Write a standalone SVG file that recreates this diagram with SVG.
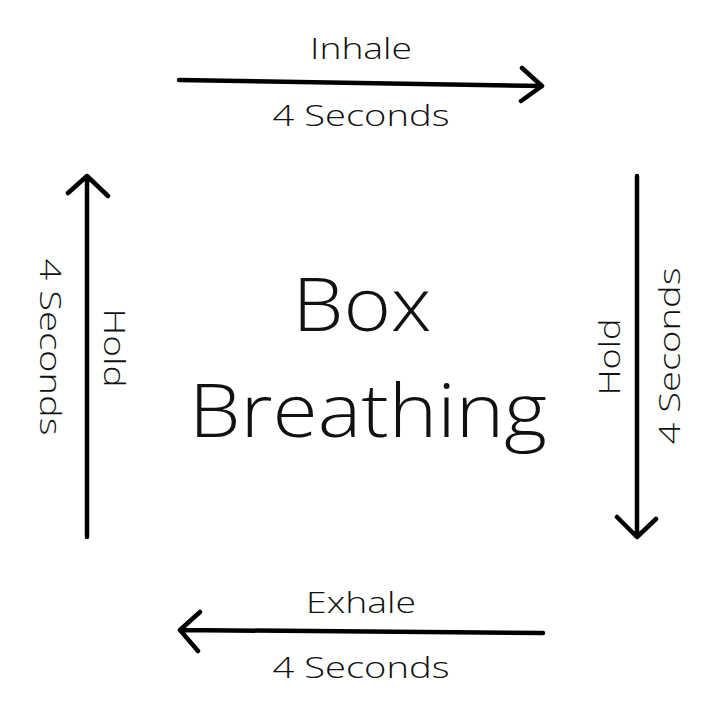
<svg xmlns="http://www.w3.org/2000/svg" width="718" height="718" viewBox="0 0 718 718">
<style>
.t{font-family:"Open Sans","Lato","Liberation Sans",sans-serif;font-weight:300;fill:#111;text-anchor:middle}
.s{font-size:30px}
.b{font-size:74px}
.c{stroke:#000;stroke-width:4.5;fill:none;stroke-linecap:round;stroke-linejoin:round}
</style>
<rect width="718" height="718" fill="#fff"/>
<g id="connectors">
<path class="c" d="M179 80 L542 86 M522 68 L542 86 L521 101"/>
<path class="c" d="M637 176 L637 537 M617 517 L637 537 L656 519"/>
<path class="c" d="M543 633 L180 630 M200 612 L180 630 L198 651"/>
<path class="c" d="M87 537 L87 176 M68 193 L87 176 L108 196"/>
</g>
<g id="title">
<text class="t b" x="362" y="331" textLength="139" lengthAdjust="spacingAndGlyphs">Box</text>
<text class="t b" x="368" y="437" textLength="358" lengthAdjust="spacingAndGlyphs">Breathing</text>
</g>
<g id="inhale">
<text class="t s" x="361" y="59" textLength="102" lengthAdjust="spacingAndGlyphs">Inhale</text>
<text class="t s" x="361" y="126" textLength="177" lengthAdjust="spacingAndGlyphs">4 Seconds</text>
</g>
<g id="hold-right">
<text class="t s" transform="translate(620 357) rotate(-90)" textLength="77" lengthAdjust="spacingAndGlyphs">Hold</text>
<text class="t s" transform="translate(680 356) rotate(-90)" textLength="177" lengthAdjust="spacingAndGlyphs">4 Seconds</text>
</g>
<g id="exhale">
<text class="t s" x="361" y="613" textLength="110" lengthAdjust="spacingAndGlyphs">Exhale</text>
<text class="t s" x="361" y="678" textLength="177" lengthAdjust="spacingAndGlyphs">4 Seconds</text>
</g>
<g id="hold-left">
<text class="t s" transform="translate(104 348) rotate(90)" textLength="79" lengthAdjust="spacingAndGlyphs">Hold</text>
<text class="t s" transform="translate(40 347) rotate(90)" textLength="177" lengthAdjust="spacingAndGlyphs">4 Seconds</text>
</g>
</svg>
